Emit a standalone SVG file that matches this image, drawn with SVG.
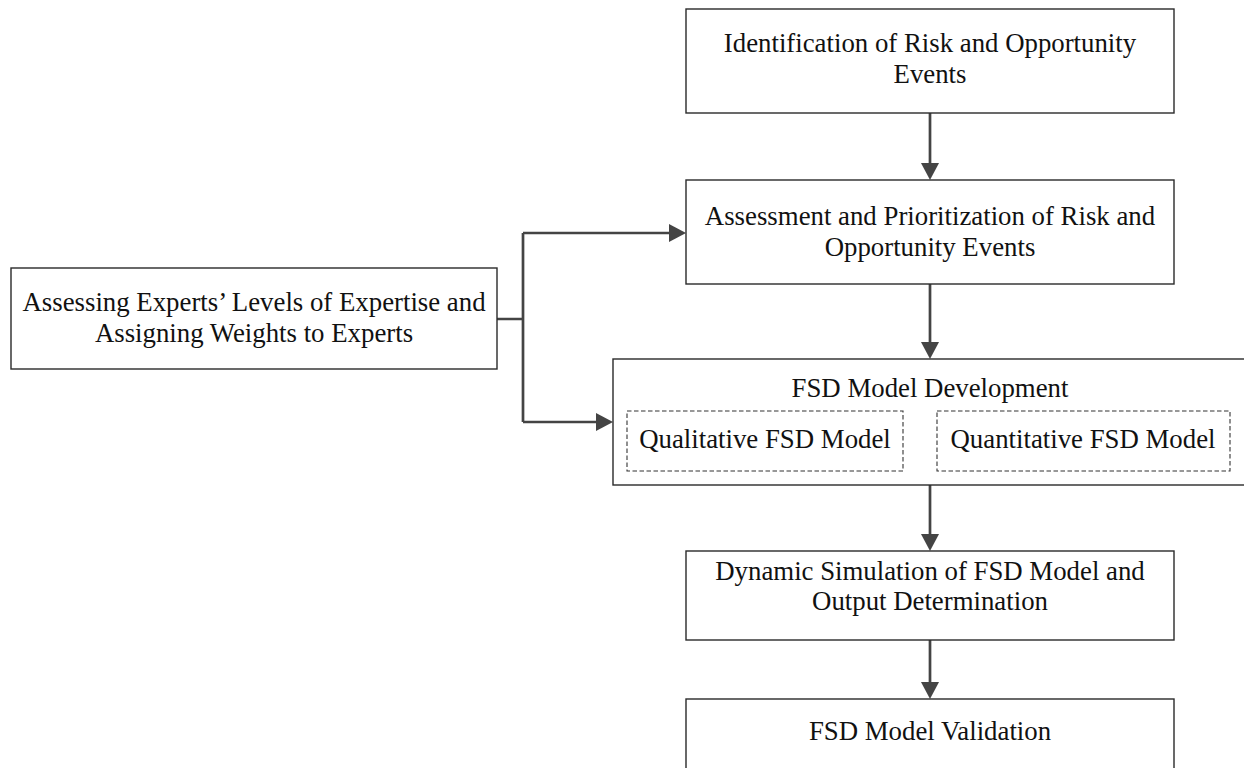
<svg xmlns="http://www.w3.org/2000/svg" width="1244" height="768" viewBox="0 0 1244 768">
  <style>
    .box { fill: #ffffff; stroke: #2a2a2a; stroke-width: 1.4; }
    .dash { fill: none; stroke: #333333; stroke-width: 1.1; stroke-dasharray: 4.5 2.5; }
    .lbl { font-family: "Liberation Serif", "Times New Roman", serif; font-size: 26.8px; fill: #111111; text-anchor: middle; }
    .wire { fill: none; stroke: #444444; stroke-width: 2.7; }
    .head { fill: #444444; }
  </style>
  <rect width="1244" height="768" fill="#ffffff"/>

  <g id="connectors">
    <path class="wire" d="M930,113 V164" />
    <polygon class="head" points="921,163 939,163 930,180"/>
    <path class="wire" d="M930,284 V343" />
    <polygon class="head" points="921,342 939,342 930,359"/>
    <path class="wire" d="M930,485 V535" />
    <polygon class="head" points="921,534 939,534 930,551"/>
    <path class="wire" d="M930,640 V683" />
    <polygon class="head" points="921,682 939,682 930,699"/>
    <path class="wire" d="M497,319 H523 M523,233 V422 M523,233 H671 M523,422 H598" />
    <polygon class="head" points="669,224 669,242 686,233"/>
    <polygon class="head" points="596,413 596,431 613,422"/>
  </g>

  <g id="identification">
    <rect class="box" x="686" y="9" width="488" height="104"/>
    <text class="lbl" x="930" y="52">Identification of Risk and Opportunity</text>
    <text class="lbl" x="930" y="83">Events</text>
  </g>

  <g id="assessment">
    <rect class="box" x="686" y="180" width="488" height="104"/>
    <text class="lbl" x="930" y="225">Assessment and Prioritization of Risk and</text>
    <text class="lbl" x="930" y="256">Opportunity Events</text>
  </g>

  <g id="experts">
    <rect class="box" x="11" y="268" width="486" height="101"/>
    <text class="lbl" x="254" y="311">Assessing Experts’ Levels of Expertise and</text>
    <text class="lbl" x="254" y="342">Assigning Weights to Experts</text>
  </g>

  <g id="fsd-development">
    <rect class="box" x="613" y="359" width="634" height="126"/>
    <text class="lbl" x="930" y="397">FSD Model Development</text>
    <g id="qualitative">
      <rect class="dash" x="627" y="411" width="276" height="60"/>
      <text class="lbl" x="765" y="448">Qualitative FSD Model</text>
    </g>
    <g id="quantitative">
      <rect class="dash" x="937" y="411" width="293" height="60"/>
      <text class="lbl" x="1083" y="448">Quantitative FSD Model</text>
    </g>
  </g>

  <g id="simulation">
    <rect class="box" x="686" y="551" width="488" height="89"/>
    <text class="lbl" x="930" y="580">Dynamic Simulation of FSD Model and</text>
    <text class="lbl" x="930" y="610">Output Determination</text>
  </g>

  <g id="validation">
    <rect class="box" x="686" y="699" width="488" height="80"/>
    <text class="lbl" x="930" y="740">FSD Model Validation</text>
  </g>
</svg>
